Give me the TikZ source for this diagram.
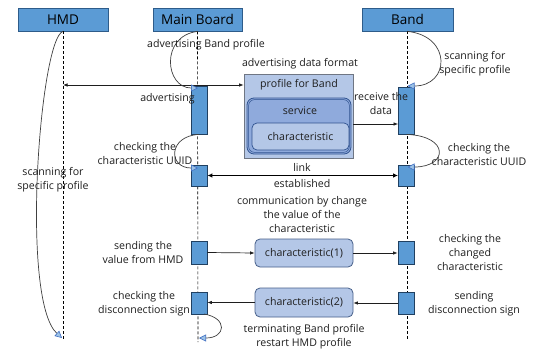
\documentclass[tikz,border=0pt]{standalone}
\usepackage{fontspec}
\setmainfont{Open Sans}
\usetikzlibrary{arrows.meta,calc}

\definecolor{headblue}{HTML}{5B9BD5}
\definecolor{headline}{HTML}{2E5C8A}
\definecolor{paleblue}{HTML}{B4C7E7}
\definecolor{midblue}{HTML}{8FAADC}
\definecolor{darkblue}{HTML}{2F528F}
\definecolor{tipfill}{HTML}{9DC3E6}
\definecolor{tipline}{HTML}{4472C4}
\definecolor{ink}{HTML}{1E1E1E}

\tikzset{
  head/.style={draw=headline, fill=headblue, line width=0.8pt, minimum height=23pt,
    inner sep=0pt, font=\fontsize{13.5}{16}\selectfont, text=black},
  actbox/.style={draw=headline!70!black, fill=headblue, line width=0.8pt,
    minimum width=16pt, inner sep=0pt},
  life/.style={draw=black, line width=0.6pt, dash pattern=on 3pt off 2pt},
  lbl/.style={align=center, font=\fontsize{10.6}{14}\selectfont, text=ink, inner sep=0pt},
  msg/.style={draw=ink, line width=0.7pt, -{Latex[length=4.5pt,width=3.5pt]}},
  biarrow/.style={draw=ink, line width=0.7pt, {Latex[length=4.5pt,width=3.5pt]}-{Latex[length=4.5pt,width=3.5pt]}},
  linkarrow/.style={draw=black, line width=1.6pt, {Latex[length=5pt,width=4.5pt]}-{Latex[length=5pt,width=4.5pt]}},
  selfcall/.style={draw=ink!85, line width=0.7pt,
    -{Triangle[length=7pt,width=7pt,fill=tipfill,color=tipline,line width=0.6pt]}},
  charbox/.style={draw=darkblue!70!gray, fill=paleblue, rounded corners=5pt, line width=0.8pt,
    minimum width=98pt, inner sep=0pt, font=\fontsize{10.6}{14}\selectfont, text=ink}
}

\begin{document}
\begin{tikzpicture}[x=1pt,y=-1pt]
\useasboundingbox (0,0) rectangle (535,348);
\fill[white] (0,0) rectangle (535,348);

% participants
\node[head, minimum width=90pt] (hmd)  at (63,19.5)    {HMD};
\node[head, minimum width=89pt] (mb)   at (197.5,19.5) {Main Board};
\node[head, minimum width=91pt] (band) at (407.5,19.5) {Band};

% lifeline ends
\coordinate (hmdEnd)  at (63,340);
\coordinate (mbEnd)   at (198,342);
\coordinate (bandEnd) at (407.5,340);
\draw[life] (hmd.south)  -- (hmdEnd);
\draw[life] (mb.south)   -- (mbEnd);
\draw[life] (band.south) -- (bandEnd);

% activation boxes
\node[actbox, minimum height=48pt] (mbA) at (199,110)   {};
\node[actbox, minimum height=47pt] (bdA) at (406.5,110.5) {};
\node[actbox, minimum height=21pt] (mbB) at (199,175.5) {};
\node[actbox, minimum height=21pt] (bdB) at (406.5,175.5) {};
\node[actbox, minimum height=23pt] (mbC) at (199,252.5) {};
\node[actbox, minimum height=23pt] (bdC) at (406,252.5) {};
\node[actbox, minimum height=22pt] (mbD) at (199,303)   {};
\node[actbox, minimum height=22pt] (bdD) at (406,303)   {};

% advertising data format: nested profile / service / characteristic
\node[draw=gray!80!darkblue, fill=paleblue, line width=0.8pt, minimum width=109pt,
      minimum height=84pt, inner sep=0pt] (prof) at (298.5,116) {};
\node[draw=darkblue, fill=midblue, rounded corners=7pt, line width=0.8pt,
      minimum width=104pt, minimum height=56pt, inner sep=0pt] (svc) at (299,126) {};
\draw[darkblue, line width=0.5pt, rounded corners=6pt] ($(svc.south west)+(2,-2)$) rectangle ($(svc.north east)+(-2,2)$);
\node[draw=darkblue, fill=paleblue, rounded corners=5pt, line width=0.7pt,
      minimum width=97pt, minimum height=27pt, inner sep=0pt,
      font=\fontsize{10.6}{14}\selectfont, text=ink] (chr) at (300.5,136.5) {characteristic};
\node[lbl] (proft) at (299,85)  {profile for Band};
\node[lbl] (svct)  at (300,111) {service};

% characteristic exchange boxes
\node[charbox, minimum height=28pt] (c1) at (304,253)   {characteristic(1)};
\node[charbox, minimum height=29pt] (c2) at (304,302.5) {characteristic(2)};

% messages
\coordinate (hmdAdv) at (63,85);
\draw[biarrow] (hmdAdv) -- (hmdAdv -| prof.west);
\coordinate (rxStart) at (353,124);
\draw[msg] (rxStart) -- (rxStart -| bdA.west);
\draw[linkarrow] (mbB.east) -- (bdB.west);
\draw[msg] (mbC.east) -- (c1.west);
\draw[msg] (c1.east) -- (c1.east -| bdC.west);
\draw[msg] (bdD.west) -- (bdD.west -| c2.east);
\draw[msg] (c2.west) -- (c2.west -| mbD.east);

% self calls
\coordinate (hmdLoopEnd) at (62,338);
\draw[selfcall] (hmd.south) .. controls (40,38) and (20,300) .. (hmdLoopEnd);
\coordinate (mbLoop1) at (198,88);
\draw[selfcall] (mb.south) .. controls (160,36) and (165,88) .. (mbLoop1);
\coordinate (bdLoop1) at (407.5,86);
\draw[selfcall] (band.south) .. controls (452,36) and (450,86) .. (bdLoop1);
\coordinate (mbLoop2) at (198,168);
\draw[selfcall] (mbA.south) .. controls (168,136) and (168,168) .. (mbLoop2);
\coordinate (bdLoop2) at (407.5,167);
\draw[selfcall] (bdA.south) .. controls (450,136) and (448,167) .. (bdLoop2);
\coordinate (mbLoop3s) at (204,314);
\coordinate (mbLoop3) at (199,338);
\draw[selfcall] (mbLoop3s) .. controls (228,318) and (226,338) .. (mbLoop3);

% labels
\node[lbl] (l1)  at (206,45)    {advertising Band profile};
\node[lbl] (l2)  at (300,64)    {advertising data format};
\node[lbl] (l3)  at (167.5,98.5){advertising};
\node[lbl] (l4)  at (381,103.5) {receive the\\data};
\node[lbl] (l5)  at (475,64)    {scanning for\\specific profile};
\node[lbl] (l6)  at (145,154)   {checking the\\characteristic UUID};
\node[lbl] (l7)  at (479,155)   {checking the\\characteristic UUID};
\node[lbl] (l8)  at (53,179.5)  {scanning for\\specific profile};
\node[lbl] (l9)  at (302,167)   {link};
\node[lbl] (l10) at (302,183.5) {established};
\node[lbl] (l11) at (302,215)   {communication by change\\the value of the\\characteristic};
\node[lbl] (l12) at (143,253)   {sending the\\value from HMD};
\node[lbl] (l13) at (470,253)   {checking the\\changed\\characteristic};
\node[lbl] (l14) at (144,303.5) {checking the\\disconnection sign};
\node[lbl] (l15) at (474,303.5) {sending\\disconnection sign};
\node[lbl] (l16) at (304,337)   {terminating Band profile\\restart HMD profile};
\end{tikzpicture}
\end{document}
